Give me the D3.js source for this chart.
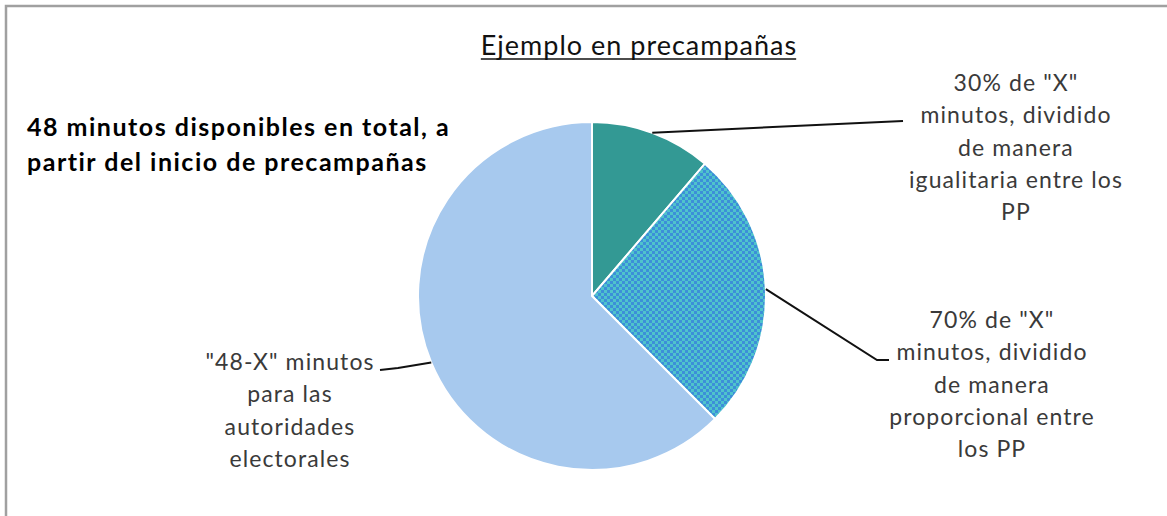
<!DOCTYPE html>
<html>
<head>
<meta charset="utf-8">
<script src="https://cdn.jsdelivr.net/npm/d3@7"></script>
<style>
  html, body { margin: 0; padding: 0; background: #fff; }
  svg { display: block; }
</style>
</head>
<body>
<div id="chart"></div>
<script>
// Slices, clockwise from 12 o'clock (minutes out of 48, X = 18)
const sliceNames = ["igualitaria", "proporcional", "autoridades"]
const sliceValues = [5.4, 12.6, 30]
const sliceLabels = [
  ["30% de \"X\"", "minutos, dividido", "de manera", "igualitaria entre los", "PP"],
  ["70% de \"X\"", "minutos, dividido", "de manera", "proporcional entre", "los PP"],
  ["\"48-X\" minutos", "para las", "autoridades", "electorales"]
]
const titleText = "Ejemplo en precampañas"
const noteLines = ["48 minutos disponibles en total, a", "partir del inicio de precampañas"]

const W = 1167, H = 516
const COLORS = {
  teal: "#339994",
  light: "#a7c9ee",
  checkA: "#3c8fd8",
  checkB: "#4fc3cc",
  border: "#a0a0a0",
  label: "#3a3a3a",
  leader: "#111"
}
const FONT = "Lato, 'Open Sans', sans-serif"
const PIE = { cx: 592, cy: 296, r: 174 }

// label layout: anchor of the text block and the elbow of the leader
const LABEL_POS = [
  { x: 1016, y: 91, elbow: null, end: [903, 121] },
  { x: 992, y: 328, elbow: [877, 360], end: [889, 360] },
  { x: 290, y: 370, elbow: [398, 368], end: [380, 370] }
]

const svg = d3.select("#chart").append("svg")
  .attr("width", W).attr("height", H)

const defs = svg.append("defs")
const pat = defs.append("pattern")
  .attr("id", "check")
  .attr("width", 6).attr("height", 6)
  .attr("patternUnits", "userSpaceOnUse")
pat.append("rect").attr("width", 6).attr("height", 6).attr("fill", COLORS.checkA)
pat.append("rect").attr("x", 0).attr("y", 0).attr("width", 3).attr("height", 3).attr("fill", COLORS.checkB)
pat.append("rect").attr("x", 3).attr("y", 3).attr("width", 3).attr("height", 3).attr("fill", COLORS.checkB)

// chart frame (only top and left edges visible in the crop)
svg.append("path")
  .attr("d", `M6,${H} L6,6 L${W},6`)
  .attr("fill", "none")
  .attr("stroke", COLORS.border)
  .attr("stroke-width", 2.5)

// Title
const title = svg.append("text")
  .attr("x", 639).attr("y", 55)
  .attr("text-anchor", "middle")
  .attr("font-family", FONT)
  .attr("font-size", "27px")
  .attr("letter-spacing", "1px")
  .attr("fill", "#111")
  .text(titleText)
const tb = title.node().getBBox()
svg.append("line")
  .attr("x1", tb.x).attr("x2", tb.x + tb.width - 1)
  .attr("y1", 59).attr("y2", 59)
  .attr("stroke", "#111").attr("stroke-width", 1.6)

// Bold note
svg.append("g").selectAll("text")
  .data(noteLines)
  .join("text")
  .attr("x", 27)
  .attr("y", (d, i) => 136 + i * 35)
  .attr("font-family", FONT)
  .attr("font-weight", "700")
  .attr("font-size", "25px")
  .attr("letter-spacing", "1.5px")
  .attr("fill", "#000")
  .text(d => d)

// Pie
const pie = d3.pie().sort(null).value(d => d)
const arcs = pie(sliceValues)
const arc = d3.arc().innerRadius(0).outerRadius(PIE.r)
const fills = [COLORS.teal, "url(#check)", COLORS.light]

const g = svg.append("g").attr("transform", `translate(${PIE.cx},${PIE.cy})`)
g.selectAll("path.slice")
  .data(arcs)
  .join("path")
  .attr("class", "slice")
  .attr("d", arc)
  .attr("fill", (d, i) => fills[i])
  .attr("stroke", "#fff")
  .attr("stroke-width", 2)

// Leader lines start on the rim at each slice's mid angle
arcs.forEach((d, i) => {
  const a = (d.startAngle + d.endAngle) / 2
  const sx = PIE.cx + Math.sin(a) * PIE.r
  const sy = PIE.cy - Math.cos(a) * PIE.r
  const p = LABEL_POS[i]
  const pts = [[sx, sy]]
  if (p.elbow) pts.push(p.elbow)
  pts.push(p.end)
  svg.append("path")
    .attr("d", d3.line()(pts))
    .attr("fill", "none")
    .attr("stroke", COLORS.leader)
    .attr("stroke-width", 2)
})

// Slice labels
sliceLabels.forEach((lines, i) => {
  const p = LABEL_POS[i]
  svg.append("g").selectAll("text")
    .data(lines)
    .join("text")
    .attr("x", p.x)
    .attr("y", (d, j) => p.y + j * 32.3)
    .attr("text-anchor", "middle")
    .attr("font-family", FONT)
    .attr("font-size", "23px")
    .attr("letter-spacing", "1.1px")
    .attr("fill", COLORS.label)
    .text(d => d)
})
</script>
</body>
</html>
